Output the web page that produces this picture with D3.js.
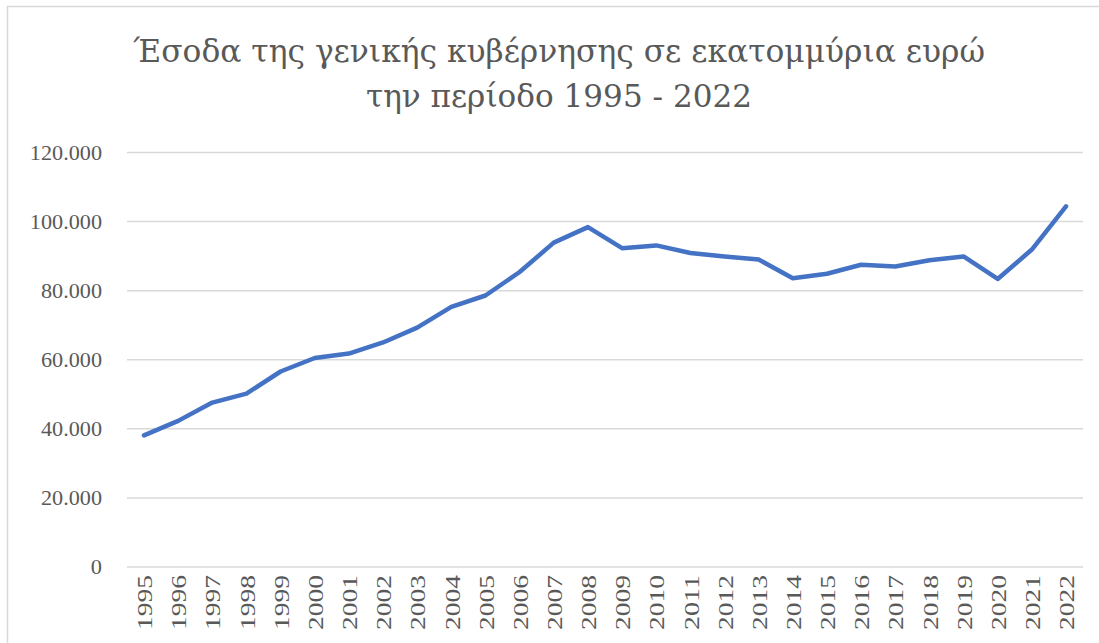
<!DOCTYPE html>
<html><head><meta charset="utf-8">
<script src="https://cdn.jsdelivr.net/npm/d3@7"></script>
<style>body{margin:0;background:#fff}svg{display:block}</style>
</head><body>
<script>
const years = ["1995","1996","1997","1998","1999","2000","2001","2002","2003","2004","2005","2006","2007","2008","2009","2010","2011","2012","2013","2014","2015","2016","2017","2018","2019","2020","2021","2022"];
const revenue = [38100,42300,47600,50200,56600,60500,61800,65000,69300,75300,78600,85400,93900,98400,92300,93100,90900,89900,89000,83600,84900,87500,87000,88800,89900,83400,91900,104400];
const yTicks = [0,20000,40000,60000,80000,100000,120000];
const titleLines = ["Έσοδα της γενικής κυβέρνησης σε εκατομμύρια ευρώ","την περίοδο 1995 - 2022"];

const W=1099,H=643;
const svg=d3.select("body").append("svg").attr("width",W).attr("height",H);
svg.append("rect").attr("x",7.5).attr("y",6.5).attr("width",W+20).attr("height",H+20)
  .attr("fill","#fff").attr("stroke","#d9d9d9").attr("stroke-width",1.5);

const font="Liberation Serif, serif";
const titleFont="DejaVu Serif, serif";
const gray="#595959";

const x=d3.scalePoint().domain(years).range([144,1066]);
const y=d3.scaleLinear().domain([0,120000]).range([567,152.5]);

// title
const tl=[{t:titleLines[0],y:62,len:852},{t:titleLines[1],y:107,len:386}];
svg.selectAll("text.title").data(tl).enter().append("text").attr("class","title")
  .attr("x",559).attr("y",d=>d.y).attr("text-anchor","middle")
  .attr("font-family",titleFont).attr("font-size",32).attr("fill",gray)
  .attr("textLength",d=>d.len).attr("lengthAdjust","spacingAndGlyphs").text(d=>d.t);

// grid
svg.append("g").selectAll("line").data(yTicks).enter().append("line")
  .attr("x1",127).attr("x2",1083).attr("y1",d=>y(d)).attr("y2",d=>y(d))
  .attr("stroke","#d9d9d9").attr("stroke-width",1.5);

const fmt=d=>d===0?"0":d3.format(",")(d).replace(/,/g,".");
// y axis
const ya=svg.append("g").attr("transform","translate(102,0)")
  .call(d3.axisLeft(y).tickValues(yTicks).tickSize(0).tickPadding(0).tickFormat(fmt));
ya.select(".domain").remove();
ya.selectAll("text").attr("font-family",font).attr("font-size",21).attr("fill",gray).attr("dy","0.33em")
  .each(function(d){const s=fmt(d);const n=s.replace(/\./g,"").length,m=s.length-n;
    d3.select(this).attr("textLength",n*11.2+m*5).attr("lengthAdjust","spacingAndGlyphs");});

// x axis
const xa=svg.append("g").attr("transform","translate(0,567)")
  .call(d3.axisBottom(x).tickSize(0).tickPadding(0));
xa.select(".domain").remove();
xa.selectAll("text").attr("font-family",font).attr("font-size",22).attr("fill",gray)
  .attr("text-anchor","end").attr("transform","rotate(-90)").attr("x",-8).attr("y",0).attr("dy","0.35em")
  .attr("textLength",55).attr("lengthAdjust","spacingAndGlyphs");

// line
const line=d3.line().x((d,i)=>x(years[i])).y(d=>y(d));
svg.append("path").datum(revenue).attr("d",line).attr("fill","none")
  .attr("stroke","#4472C4").attr("stroke-width",4.5).attr("stroke-linejoin","round").attr("stroke-linecap","round");
</script>
</body></html>
